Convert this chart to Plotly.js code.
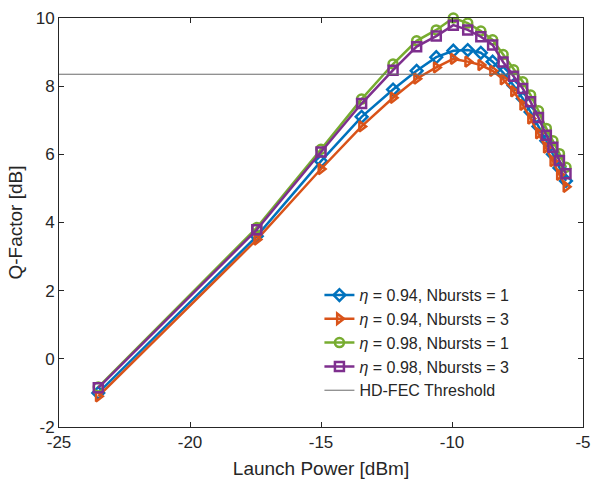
<!DOCTYPE html>
<html>
<head>
<meta charset="utf-8">
<script src="https://cdn.plot.ly/plotly-3.0.1.min.js"></script>
<style>html,body{margin:0;padding:0;background:#fff;}#chart{width:594px;height:485px;}</style>
</head>
<body>
<div id="chart"></div>
<script>
// Launch power [dBm]
const launchPower = [-23.5, -17.45, -15.0, -13.45, -12.25, -11.35, -10.6, -9.95, -9.4, -8.9, -8.45, -8.05, -7.65, -7.3, -7.0, -6.7, -6.4, -6.15, -5.9, -5.65];
// Q-factor [dB]
const q094n1 = [-1.0, 3.6, 5.8, 7.1, 7.9, 8.45, 8.85, 9.04, 9.06, 8.98, 8.72, 8.4, 8.02, 7.64, 7.24, 6.82, 6.4, 6.0, 5.6, 5.22];
const q094n3 = [-1.1, 3.5, 5.57, 6.82, 7.66, 8.22, 8.55, 8.8, 8.72, 8.62, 8.45, 8.2, 7.85, 7.45, 7.05, 6.62, 6.2, 5.8, 5.4, 5.05];
const q098n1 = [-0.83, 3.85, 6.15, 7.62, 8.65, 9.33, 9.65, 10.0, 9.85, 9.62, 9.36, 8.93, 8.48, 8.13, 7.74, 7.28, 6.76, 6.4, 6.02, 5.62];
const q098n3 = [-0.85, 3.79, 6.07, 7.49, 8.47, 9.16, 9.47, 9.79, 9.65, 9.45, 9.21, 8.71, 8.29, 7.93, 7.54, 7.08, 6.56, 6.21, 5.82, 5.43];
const thresholdX = [-25, -5];
const thresholdY = [8.35, 8.35];
const seriesNames = ['<i>η</i> = 0.94, Nbursts = 1', '<i>η</i> = 0.94, Nbursts = 3', '<i>η</i> = 0.98, Nbursts = 1', '<i>η</i> = 0.98, Nbursts = 3', 'HD-FEC Threshold'];
const xTicks = [-25, -20, -15, -10, -5];
const yTicks = [-2, 0, 2, 4, 6, 8, 10];

const colors = ['#0072BD', '#D95319', '#77AC30', '#7E2F8E'];
const symbols = ['diamond-open', 'triangle-right-open', 'circle-open', 'square-open'];
const ys = [q094n1, q094n3, q098n1, q098n3];

const traces = ys.map((y, i) => ({
  x: launchPower, y: y, type: 'scatter', mode: 'lines+markers', name: seriesNames[i],
  cliponaxis: false,
  line: {color: colors[i], width: 2.5},
  marker: {symbol: symbols[i], size: 9, color: colors[i], line: {color: colors[i], width: 2.5}}
}));
traces.push({
  x: thresholdX, y: thresholdY, type: 'scatter', mode: 'lines', name: seriesNames[4],
  line: {color: '#6a6a6a', width: 1}
});

const axisCommon = {
  showgrid: false, zeroline: false, showline: true, linecolor: '#262626', linewidth: 1,
  mirror: 'ticks', ticks: 'inside', ticklen: 5, tickcolor: '#262626',
  tickfont: {family: 'Arial, Liberation Sans, sans-serif', size: 17, color: '#262626'}
};

const layout = {
  width: 594, height: 485,
  margin: {l: 59, r: 11, t: 18, b: 58},
  paper_bgcolor: '#fff', plot_bgcolor: '#fff',
  font: {family: 'Arial, Liberation Sans, sans-serif', color: '#262626'},
  showlegend: true,
  legend: {x: 0.497, y: 0.364, xanchor: 'left', yanchor: 'top', bgcolor: 'rgba(255,255,255,0)',
           borderwidth: 0, font: {size: 16, color: '#262626'}, tracegroupgap: 0},
  xaxis: Object.assign({}, axisCommon, {range: [-25, -5], tickvals: xTicks, ticktext: xTicks.map(String),
    title: {text: 'Launch Power [dBm]', font: {size: 19, color: '#262626'}, standoff: 10}}),
  yaxis: Object.assign({}, axisCommon, {range: [-2, 10], tickvals: yTicks, ticktext: yTicks.map(String),
    title: {text: 'Q-Factor [dB]', font: {size: 19, color: '#262626'}, standoff: 8}})
};

Plotly.newPlot('chart', traces, layout, {displayModeBar: false, staticPlot: true});
</script>
</body>
</html>
